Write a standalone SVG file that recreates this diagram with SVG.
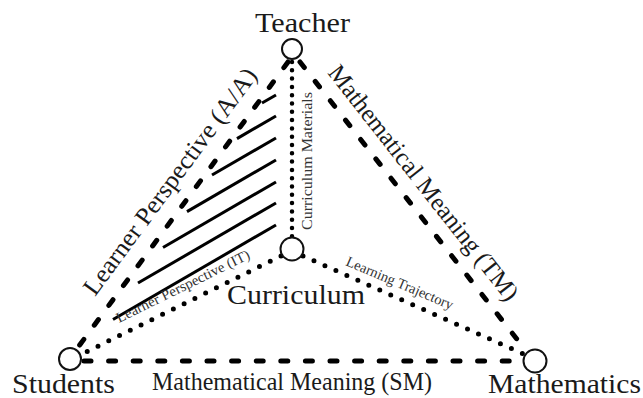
<svg xmlns="http://www.w3.org/2000/svg" width="643" height="398" viewBox="0 0 643 398">
<style>
.node{fill:#fff;stroke:#111;stroke-width:2}
.lbl{font-family:"Liberation Serif","Times New Roman",serif;fill:#1a1a1a}
.big{font-size:28px}
.mid{font-size:25px}
.sm{font-size:14.5px;fill:#333}
.dash{fill:none;stroke:#000;stroke-width:5;stroke-linecap:round;stroke-dasharray:7 17.6}
.dot{fill:none;stroke:#000;stroke-width:5;stroke-linecap:round;stroke-dasharray:0 12}
.vdot{fill:none;stroke:#000;stroke-width:4.5;stroke-linecap:round;stroke-dasharray:0 8.3}
.hatch{stroke:#000;stroke-width:3;fill:none}
</style>
<rect width="643" height="398" fill="#fff"/>
<g id="connectors">
  <line class="dash" x1="288" y1="62" x2="76" y2="350"/>
  <line class="dash" x1="300" y1="62" x2="527" y2="352"/>
  <line class="dash" x1="84" y1="361" x2="526" y2="361"/>
  <line class="vdot" x1="292" y1="62" x2="292" y2="237"/>
  <line class="dot" x1="281" y1="256" x2="80" y2="355"/>
  <line class="dot" x1="303" y1="256" x2="526" y2="355"/>
  <g id="hatching">
    <line class="hatch" x1="262" y1="103" x2="276" y2="95"/>
    <line class="hatch" x1="237" y1="138.6" x2="276" y2="116"/>
    <line class="hatch" x1="212" y1="175" x2="276" y2="138"/>
    <line class="hatch" x1="187" y1="211.6" x2="276" y2="160"/>
    <line class="hatch" x1="163" y1="247.5" x2="276" y2="182"/>
    <line class="hatch" x1="138" y1="283" x2="276" y2="203"/>
    <line class="hatch" x1="113" y1="319.5" x2="276" y2="225"/>
  </g>
  <text class="lbl mid" transform="translate(95,297) rotate(-53.6)" textLength="275" lengthAdjust="spacingAndGlyphs">Learner Perspective (A/A)</text>
  <text class="lbl mid" transform="translate(327,73) rotate(51.9)" textLength="292" lengthAdjust="spacingAndGlyphs">Mathematical Meaning (TM)</text>
  <text class="lbl sm" transform="translate(312,230) rotate(-90)" textLength="138" lengthAdjust="spacingAndGlyphs">Curriculum Materials</text>
  <text class="lbl sm" transform="translate(119,323) rotate(-26.2)" textLength="147" lengthAdjust="spacingAndGlyphs">Learner Perspective (IT)</text>
  <text class="lbl sm" transform="translate(345,265) rotate(23)" textLength="115" lengthAdjust="spacingAndGlyphs">Learning Trajectory</text>
  <text class="lbl mid" x="152" y="390" textLength="280" lengthAdjust="spacingAndGlyphs">Mathematical Meaning (SM)</text>
</g>
<g id="teacher">
  <circle class="node" cx="292" cy="49" r="10"/>
  <text class="lbl big" x="255" y="32" textLength="95" lengthAdjust="spacingAndGlyphs">Teacher</text>
</g>
<g id="curriculum">
  <circle class="node" cx="292" cy="249" r="11.5"/>
  <text class="lbl big" x="227" y="304" textLength="138" lengthAdjust="spacingAndGlyphs">Curriculum</text>
</g>
<g id="students">
  <circle class="node" cx="70" cy="359" r="11"/>
  <text class="lbl big" x="12" y="393" textLength="103" lengthAdjust="spacingAndGlyphs">Students</text>
</g>
<g id="mathematics">
  <circle class="node" cx="535" cy="361" r="11.5"/>
  <text class="lbl big" x="488" y="393" textLength="153" lengthAdjust="spacingAndGlyphs">Mathematics</text>
</g>
</svg>
